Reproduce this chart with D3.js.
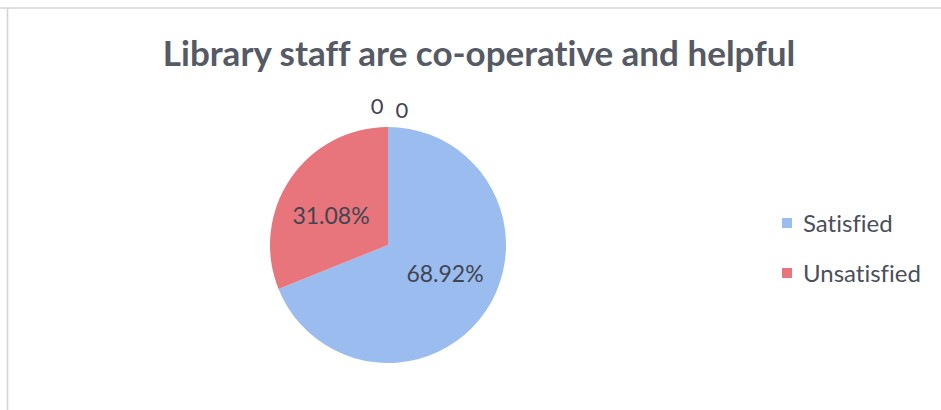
<!DOCTYPE html>
<html>
<head>
<meta charset="utf-8">
<script src="https://cdn.jsdelivr.net/npm/d3@7"></script>
<style>
  html, body { margin: 0; padding: 0; background: #fff; }
  svg { display: block; }
  text { font-variant-ligatures: none; }
</style>
</head>
<body>
<svg id="chart" width="941" height="410"></svg>
<script>
// Survey responses for the statement below
const title = "Library staff are co-operative and helpful";
const categories = ["Satisfied", "Unsatisfied", "", ""];
const values = [68.92, 31.08, 0, 0];
const legendItems = ["Satisfied", "Unsatisfied"];
const colors = ["#9bbcef", "#e8757c", "#a5a5a5", "#f2c84b"];

const svg = d3.select("#chart");
const W = 941, H = 410;
const font = "Lato, 'Open Sans', sans-serif";

// chart frame
svg.append("line").attr("x1", 0).attr("x2", W).attr("y1", 8).attr("y2", 8)
  .attr("stroke", "#d4d4d4").attr("stroke-width", 1.5);
svg.append("line").attr("x1", 7.5).attr("x2", 7.5).attr("y1", 8).attr("y2", H)
  .attr("stroke", "#d4d4d4").attr("stroke-width", 1.5);

svg.append("text")
  .attr("x", 479).attr("y", 66)
  .attr("text-anchor", "middle")
  .attr("font-family", font).attr("font-weight", "bold")
  .attr("font-size", 35).attr("fill", "#555a64")
  .text(title);

const cx = 388, cy = 245, R = 118;
const data = categories.map((c, i) => ({ cat: c, value: values[i], i }));

const pie = d3.pie().sort(null).value(d => d.value);
const arcs = pie(data);
const arc = d3.arc().innerRadius(0).outerRadius(R);

const g = svg.append("g").attr("transform", `translate(${cx},${cy})`);
g.selectAll("path").data(arcs).join("path")
  .attr("d", arc)
  .attr("fill", d => colors[d.data.i]);

// percentage labels inside the slices, set slightly counter-clockwise of the slice middle
const labelR = 64, labelShift = -7 * Math.PI / 180;
g.selectAll("text.pct").data(arcs.filter(d => d.data.value > 0)).join("text")
  .attr("class", "pct")
  .attr("transform", d => {
    const a = (d.startAngle + d.endAngle) / 2 + labelShift;
    return `translate(${labelR * Math.sin(a)},${-labelR * Math.cos(a)})`;
  })
  .attr("dy", "0.36em")
  .attr("text-anchor", "middle")
  .attr("font-family", font).attr("font-size", 23).attr("fill", "#404552")
  .text(d => d.data.value.toFixed(2) + "%");

// zero-valued slices are labelled just outside the rim
const zeroArcs = arcs.filter(d => d.data.value === 0);
g.selectAll("text.zero").data(zeroArcs).join("text")
  .attr("class", "zero")
  .attr("x", (d, k) => (k === 0 ? -11 : 14))
  .attr("y", (d, k) => (k === 0 ? -R - 13 : -R - 9))
  .attr("text-anchor", "middle")
  .attr("font-family", font).attr("font-size", 22).attr("fill", "#404552")
  .text(d => String(d.data.value));

// legend
const legend = svg.append("g").attr("transform", "translate(782,218)");
const li = legend.selectAll("g").data(legendItems).join("g")
  .attr("transform", (d, i) => `translate(0,${i * 50})`);
li.append("rect").attr("width", 10).attr("height", 10)
  .attr("fill", (d, i) => colors[i]);
li.append("text").attr("x", 21).attr("y", 5).attr("dy", "0.36em")
  .attr("font-family", font).attr("font-size", 24).attr("fill", "#4a4f5c")
  .text(d => d);
</script>
</body>
</html>
